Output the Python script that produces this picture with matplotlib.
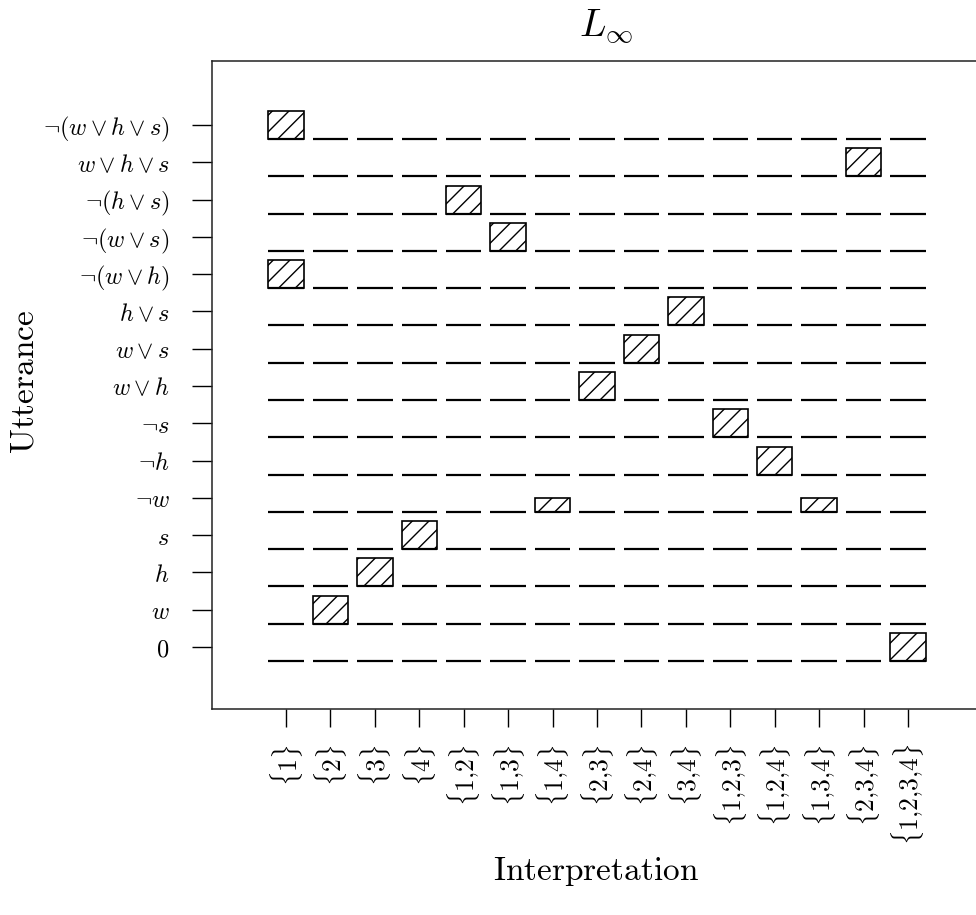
"""Listener L_inf: probability of each interpretation given an utterance."""
import numpy as np
import matplotlib

matplotlib.use("Agg")
import matplotlib.pyplot as plt

plt.rcParams["mathtext.fontset"] = "cm"
plt.rcParams["hatch.linewidth"] = 1.0

# utterances, bottom row first
utterances = [
    r"$0$", r"$w$", r"$h$", r"$s$", r"$\neg w$", r"$\neg h$", r"$\neg s$",
    r"$w \vee h$", r"$w \vee s$", r"$h \vee s$",
    r"$\neg(w \vee h)$", r"$\neg(w \vee s)$", r"$\neg(h \vee s)$",
    r"$w \vee h \vee s$", r"$\neg(w \vee h \vee s)$",
]
interpretations = [
    "1", "2", "3", "4", "1,2", "1,3", "1,4", "2,3", "2,4", "3,4",
    "1,2,3", "1,2,4", "1,3,4", "2,3,4", "1,2,3,4",
]
# per utterance: (interpretation, probability) with nonzero mass
mass_0 = [("1,2,3,4", 1.0)]
mass_w = [("2", 1.0)]
mass_h = [("3", 1.0)]
mass_s = [("4", 1.0)]
mass_not_w = [("1,4", 0.5), ("1,3,4", 0.5)]
mass_not_h = [("1,2,4", 1.0)]
mass_not_s = [("1,2,3", 1.0)]
mass_w_or_h = [("2,3", 1.0)]
mass_w_or_s = [("2,4", 1.0)]
mass_h_or_s = [("3,4", 1.0)]
mass_not_w_or_h = [("1", 1.0)]
mass_not_w_or_s = [("1,3", 1.0)]
mass_not_h_or_s = [("1,2", 1.0)]
mass_whs = [("2,3,4", 1.0)]
mass_not_whs = [("1", 1.0)]

rows = [mass_0, mass_w, mass_h, mass_s, mass_not_w, mass_not_h, mass_not_s,
        mass_w_or_h, mass_w_or_s, mass_h_or_s, mass_not_w_or_h,
        mass_not_w_or_s, mass_not_h_or_s, mass_whs, mass_not_whs]

probs = np.zeros((len(utterances), len(interpretations)))
for i, row in enumerate(rows):
    for interp, p in row:
        probs[i, interpretations.index(interp)] = p

W, H = 976, 915
fig = plt.figure(figsize=(W / 100, H / 100), dpi=100)
ax = fig.add_axes([212 / W, 1 - 709 / H, 770 / W, 648 / H])

xs = np.arange(1, len(interpretations) + 1)
cell_h = 0.75
bar_w = 0.8
for i in range(len(utterances)):
    base = i + 1 - cell_h / 2
    ax.hlines(np.full(len(xs), base), xs - bar_w / 2, xs + bar_w / 2,
              color="black", linewidth=1.6)
    nz = probs[i] > 0
    ax.bar(xs[nz], probs[i][nz] * cell_h, width=bar_w, bottom=base,
           facecolor="white", edgecolor="black", linewidth=1.2, hatch="//")

ax.set_xlim(1 - 1.666, len(interpretations) + 1.666)
ax.set_ylim(1 - 1.663, len(utterances) + 1.716)

ax.set_yticks(np.arange(1, len(utterances) + 1))
ax.set_yticklabels(utterances, fontsize=17.5)
ax.set_xticks(xs)
ax.set_xticklabels([r"$\{" + s.replace(",", "{,}") + r"\}$" for s in interpretations],
                   rotation=90, fontsize=18.5)
ax.tick_params(axis="y", length=14.5, width=1.0, pad=16, direction="out")
ax.tick_params(axis="x", length=13, width=1.0, pad=12, direction="out")
for s in ("top", "bottom", "left", "right"):
    ax.spines[s].set_linewidth(1.1)
    ax.spines[s].set_color("#222222")

fig.text(606 / W, 1 - 27 / H, r"$L_\infty$", fontsize=28, ha="center", va="center")
fig.text(24 / W, 1 - 382 / H, r"$\mathrm{Utterance}$", fontsize=24,
         ha="center", va="center", rotation=90)
fig.text(596 / W, 1 - 872 / H, r"$\mathrm{Interpretation}$", fontsize=24,
         ha="center", va="center")

fig.savefig("out.png", dpi=100)
